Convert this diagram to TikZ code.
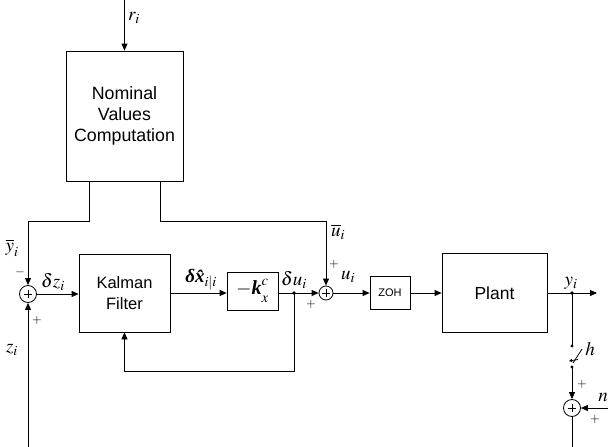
\documentclass[tikz,border=0pt]{standalone}
\usepackage{amsmath}
\usepackage{mathptmx}
\usepackage{fontspec}
\setmainfont{Liberation Serif}
\setsansfont{Liberation Sans}
\usetikzlibrary{arrows.meta}
\begin{document}
\begin{tikzpicture}[x=1pt,y=-1pt,line width=0.8pt,
  >={Triangle[length=7pt,width=6pt]},
  blk/.style={draw,rectangle,inner sep=0pt,align=center,font=\sffamily\fontsize{16.5}{21}\selectfont},
  sumnode/.style={circle,draw,inner sep=0pt,minimum size=#1,
    path picture={\draw[line width=0.6pt]
      ([xshift=-0.26*#1]path picture bounding box.center) -- ([xshift=0.26*#1]path picture bounding box.center)
      ([yshift=-0.26*#1]path picture bounding box.center) -- ([yshift=0.26*#1]path picture bounding box.center);}},
  lbl/.style={inner sep=0pt,font=\fontsize{19}{22}\selectfont},
  sgn/.style={inner sep=0pt,font=\fontsize{12.5}{14}\selectfont}]
\useasboundingbox (0,0) rectangle (608,447);

% blocks
\node[blk,minimum width=117pt,minimum height=130pt,font=\sffamily\fontsize{17.8}{21}\selectfont] (nom) at (124.5,116) {Nominal\\Values\\Computation};
\node[blk,minimum width=91pt,minimum height=78pt] (kal) at (124.5,293) {Kalman\\Filter};
\node[blk,minimum width=51pt,minimum height=38pt,font=\fontsize{20}{22}\selectfont] (kb) at (252.5,291) {$-\text{\bfseries\itshape k}^{\raisebox{1pt}{$\scriptstyle c$}}_{\raisebox{-3pt}{$\scriptstyle x$}}$};
\node[blk,minimum width=40pt,minimum height=33pt,font=\sffamily\fontsize{11}{12}\selectfont] (zoh) at (390,293) {ZOH};
\node[blk,minimum width=105pt,minimum height=79pt,font=\sffamily\fontsize{17.5}{21}\selectfont] (plant) at (494.5,293) {Plant};

% summing junctions
\node[sumnode=17pt] (s1) at (28,294) {};
\node[sumnode=14pt] (s2) at (326,293) {};
\node[sumnode=17pt] (s3) at (572,408) {};

% coordinates
\coordinate (rtop) at (124.5,0);
\coordinate (c1) at (89,221);
\coordinate (c2) at (160,221);
\coordinate (j1) at (294,293);
\coordinate (fb) at (294,371);
\coordinate (j2) at (572,293);
\coordinate (yend) at (597,293);
\coordinate (sw1) at (572,346);
\coordinate (sw2) at (572,367);
\coordinate (nin) at (608,408);
\coordinate (bot3) at (572,447);
\coordinate (bot1) at (28,447);

% connectors
\draw[->] (rtop) -- (nom.north);
\draw[->] (nom.south -| c1) -- (c1) -| (s1);
\draw[->] (nom.south -| c2) -- (c2) -| (s2);
\draw[->] (bot1) -- (s1);
\draw[->] (s1) -- (s1 -| kal.west);
\draw[->] (kal.east |- j1) -- (kb.west |- j1);
\draw (kb.east |- j1) -- (j1);
\draw[->] (j1) -- (s2);
\fill (j1) circle (1.8pt);
\draw[->] (j1) -- (fb) -| (kal.south);
\draw[->] (s2) -- (zoh);
\draw[->] (zoh) -- (plant);
\draw[->] (plant) -- (yend);
\fill (j2) circle (1.8pt);
\draw (j2) -- (sw1);
\fill (sw1) circle (1.7pt);
\fill (sw2) circle (1.7pt);
\draw (573,363) -- (582,349);
\draw[-{Triangle[length=3pt,width=3pt]}] (578,359.5) -- (569,361);
\draw[->] (sw2) -- (s3);
\draw[->] (nin) -- (s3);
\draw (s3) -- (bot3);

% labels
\node[lbl] (lr) at (134,18) {$r_i$};
\node[lbl] (lyb) at (12,248) {$\overline{y}_i$};
\node[sgn] (m1) at (20,272) {$-$};
\node[sgn] (p1) at (37,320) {$+$};
\node[lbl] (lz) at (12,350) {$z_i$};
\node[lbl] (ldz) at (53,282) {$\delta z_i$};
\node[lbl] (ldx) at (201,280) {$\text{\bfseries\itshape δ\^{x}}_{i|i}$};
\node[lbl] (ldu) at (294,280) {$\delta u_i$};
\node[sgn] (p2) at (311,304) {$+$};
\node[sgn] (p3) at (334,264) {$+$};
\node[lbl] (lub) at (338,232) {$\overline{u}_i$};
\node[lbl] (lu) at (348,277) {$u_i$};
\node[lbl] (ly) at (571,283) {$y_i$};
\node[lbl] (lh) at (590,349) {$h$};
\node[sgn] (p4) at (582,384) {$+$};
\node[lbl] (ln) at (603,397) {$n$};
\node[sgn] (p5) at (595,419) {$+$};
\end{tikzpicture}
\end{document}
